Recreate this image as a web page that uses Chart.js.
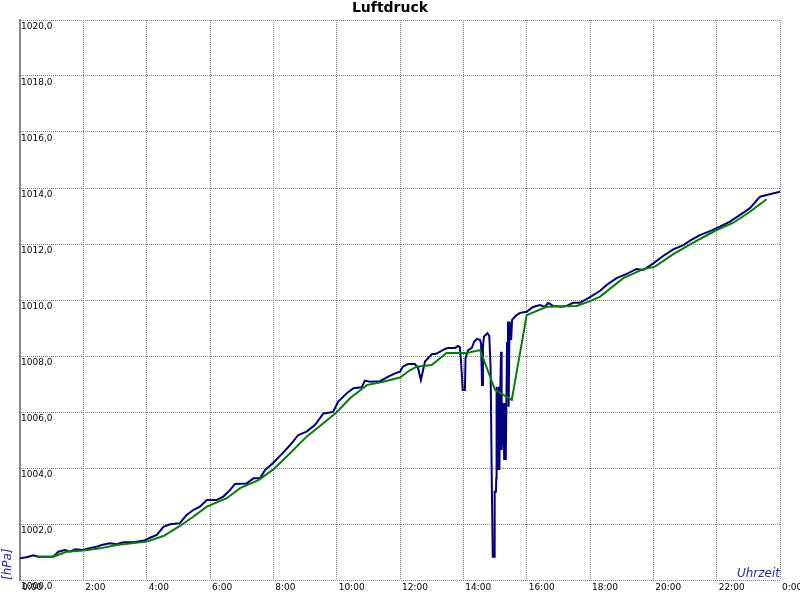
<!DOCTYPE html>
<html>
<head>
<meta charset="utf-8">
<script src="https://cdn.jsdelivr.net/npm/chart.js@4/dist/chart.umd.min.js"></script>
<style>html,body{margin:0;padding:0;background:#fff;}canvas{display:block;}</style>
</head>
<body>
<canvas id="c" width="800" height="600"></canvas>
<script>
const chartTitle = 'Luftdruck';
const yAxisTitle = '[hPa]';
const xAxisTitle = 'Uhrzeit';

// measured pressure (time in hours of the day)
const pressureHours = [0.00,0.21,0.42,0.58,1.05,1.21,1.42,1.58,1.74,2.00,2.16,2.42,2.58,2.84,3.05,3.26,3.58,3.89,4.11,4.32,4.53,4.74,5.05,5.26,5.47,5.68,5.90,6.21,6.42,6.63,6.79,7.16,7.37,7.58,7.74,8.00,8.31,8.53,8.79,9.05,9.32,9.58,9.79,9.89,10.05,10.32,10.53,10.79,10.89,11.05,11.37,11.63,11.84,12.00,12.09,12.25,12.47,12.57,12.66,12.73,12.79,13.01,13.11,13.20,13.42,13.52,13.74,13.83,13.89,13.93,13.98,14.05,14.07,14.15,14.27,14.34,14.43,14.53,14.56,14.59,14.62,14.65,14.76,14.82,14.86,14.90,14.93,14.97,14.99,15.03,15.04,15.05,15.09,15.12,15.14,15.16,15.19,15.21,15.24,15.27,15.29,15.32,15.34,15.38,15.41,15.43,15.46,15.51,15.54,15.63,15.68,15.79,16.00,16.20,16.42,16.58,16.67,16.74,16.83,17.11,17.26,17.47,17.68,18.00,18.32,18.53,18.84,19.16,19.47,19.68,20.00,20.31,20.63,20.95,21.16,21.47,21.79,22.10,22.42,22.74,23.05,23.37,23.58,24.00];
const pressureValues = [1000.78,1000.81,1000.88,1000.83,1000.83,1001.01,1001.07,1001.01,1001.10,1001.07,1001.13,1001.19,1001.25,1001.31,1001.28,1001.35,1001.35,1001.40,1001.51,1001.61,1001.90,1001.99,1002.03,1002.32,1002.50,1002.62,1002.86,1002.86,1002.98,1003.21,1003.43,1003.45,1003.63,1003.63,1003.93,1004.19,1004.55,1004.82,1005.18,1005.30,1005.54,1005.95,1005.98,1006.01,1006.37,1006.67,1006.85,1006.88,1007.12,1007.08,1007.10,1007.26,1007.38,1007.44,1007.62,1007.71,1007.71,1007.57,1007.14,1007.50,1007.80,1008.07,1008.07,1008.11,1008.25,1008.29,1008.29,1008.36,1008.32,1007.75,1006.79,1006.79,1007.93,1008.21,1008.29,1008.51,1008.61,1008.57,1008.43,1006.96,1008.33,1008.69,1008.82,1008.71,1007.62,1003.39,1000.83,1000.83,1003.15,1003.15,1003.64,1006.90,1003.93,1006.90,1003.93,1006.43,1008.15,1004.64,1005.48,1006.32,1004.29,1006.32,1004.29,1008.46,1009.23,1006.19,1009.23,1008.57,1009.29,1009.40,1009.46,1009.54,1009.58,1009.75,1009.82,1009.75,1009.89,1009.86,1009.79,1009.76,1009.79,1009.90,1009.90,1010.10,1010.33,1010.54,1010.78,1010.93,1011.11,1011.07,1011.31,1011.57,1011.81,1011.96,1012.12,1012.32,1012.46,1012.62,1012.80,1013.04,1013.28,1013.69,1013.75,1013.87];

// smoothed pressure (moving average)
const averageHours = [0.53,1.05,1.47,2.00,2.53,3.05,4.00,4.53,5.05,5.47,5.90,6.53,6.95,7.53,8.00,8.53,9.05,9.58,10.00,10.42,10.95,11.47,12.00,12.32,12.53,13.00,13.47,14.11,14.53,15.00,15.53,16.00,16.63,17.58,18.00,18.32,19.05,19.68,20.05,20.63,21.26,22.00,22.53,23.05,23.58];
const averageValues = [1000.83,1000.83,1001.01,1001.05,1001.13,1001.25,1001.37,1001.57,1001.93,1002.26,1002.62,1002.92,1003.28,1003.57,1003.95,1004.53,1005.12,1005.60,1005.99,1006.49,1006.96,1007.08,1007.23,1007.50,1007.62,1007.68,1008.11,1008.11,1008.21,1006.79,1006.43,1009.46,1009.76,1009.79,1009.96,1010.12,1010.78,1011.10,1011.19,1011.64,1012.05,1012.50,1012.76,1013.15,1013.60];

const yTickValues = [1000,1002,1004,1006,1008,1010,1012,1014,1016,1018,1020];
const xTickHours = [0,2,4,6,8,10,12,14,16,18,20,22,24];
const xTickLabels = ['0:00','2:00','4:00','6:00','8:00','10:00','12:00','14:00','16:00','18:00','20:00','22:00','0:00'];

const FONT = 'DejaVu Sans';

const xTitlePlugin = {
  id: 'xTitleInside',
  afterDraw(chart) {
    const {ctx, chartArea} = chart;
    ctx.save();
    ctx.font = 'italic 12px "' + FONT + '"';
    ctx.fillStyle = '#2a2aa5';
    ctx.textAlign = 'right';
    ctx.textBaseline = 'alphabetic';
    ctx.fillText(xAxisTitle, chartArea.right, chartArea.bottom - 3);
    ctx.restore();
  }
};

new Chart(document.getElementById('c'), {
  type: 'line',
  data: {
    datasets: [
      {
        label: 'Luftdruck',
        data: pressureHours.map((h, i) => ({x: h, y: pressureValues[i]})),
        borderColor: '#000080',
        borderWidth: 2,
        pointRadius: 0,
        tension: 0,
        fill: false,
        order: 1
      },
      {
        label: 'Mittelwert',
        data: averageHours.map((h, i) => ({x: h, y: averageValues[i]})),
        borderColor: '#008000',
        borderWidth: 2,
        pointRadius: 0,
        tension: 0,
        fill: false,
        order: 0
      }
    ]
  },
  options: {
    responsive: false,
    animation: false,
    layout: {padding: {left: 0, right: 20, top: 0, bottom: 6}},
    plugins: {
      legend: {display: false},
      tooltip: {enabled: false},
      title: {
        display: true,
        text: chartTitle,
        color: '#000',
        font: {family: FONT, size: 14, weight: 'bold', lineHeight: 1.2},
        padding: {top: 0, bottom: 3.2}
      }
    },
    scales: {
      x: {
        type: 'linear',
        min: 0,
        max: 24,
        afterBuildTicks: s => { s.ticks = xTickHours.map(v => ({value: v})); },
        afterFit: s => { s.height = 14; s.paddingRight = 0; s.paddingLeft = 0; },
        ticks: {
          autoSkip: false,
          maxRotation: 0,
          align: 'start',
          labelOffset: 2,
          padding: 2,
          color: '#000',
          font: {family: FONT, size: 9},
          callback: (v, i) => xTickLabels[i]
        },
        grid: {color: '#808080', lineWidth: 1, drawTicks: false},
        border: {display: false, dash: [1, 1]}
      },
      y: {
        min: 1000,
        max: 1020,
        afterBuildTicks: s => { s.ticks = yTickValues.map(v => ({value: v})); },
        afterFit: s => { s.width = 20; s.paddingTop = 0; s.paddingBottom = 0; },
        ticks: {
          autoSkip: false,
          mirror: true,
          padding: 1,
          labelOffset: 7,
          color: '#000',
          font: {family: FONT, size: 9},
          callback: v => v.toFixed(1).replace('.', ',')
        },
        grid: {color: '#808080', lineWidth: 1, drawTicks: false},
        border: {display: true, color: '#888888', width: 2, dash: [1, 1]},
        title: {
          display: true,
          text: yAxisTitle,
          align: 'start',
          color: '#2a2aa5',
          font: {family: FONT, size: 12, style: 'italic', lineHeight: 1},
          padding: {top: 2, bottom: 5}
        }
      }
    }
  },
  plugins: [xTitlePlugin]
});
</script>
</body>
</html>
